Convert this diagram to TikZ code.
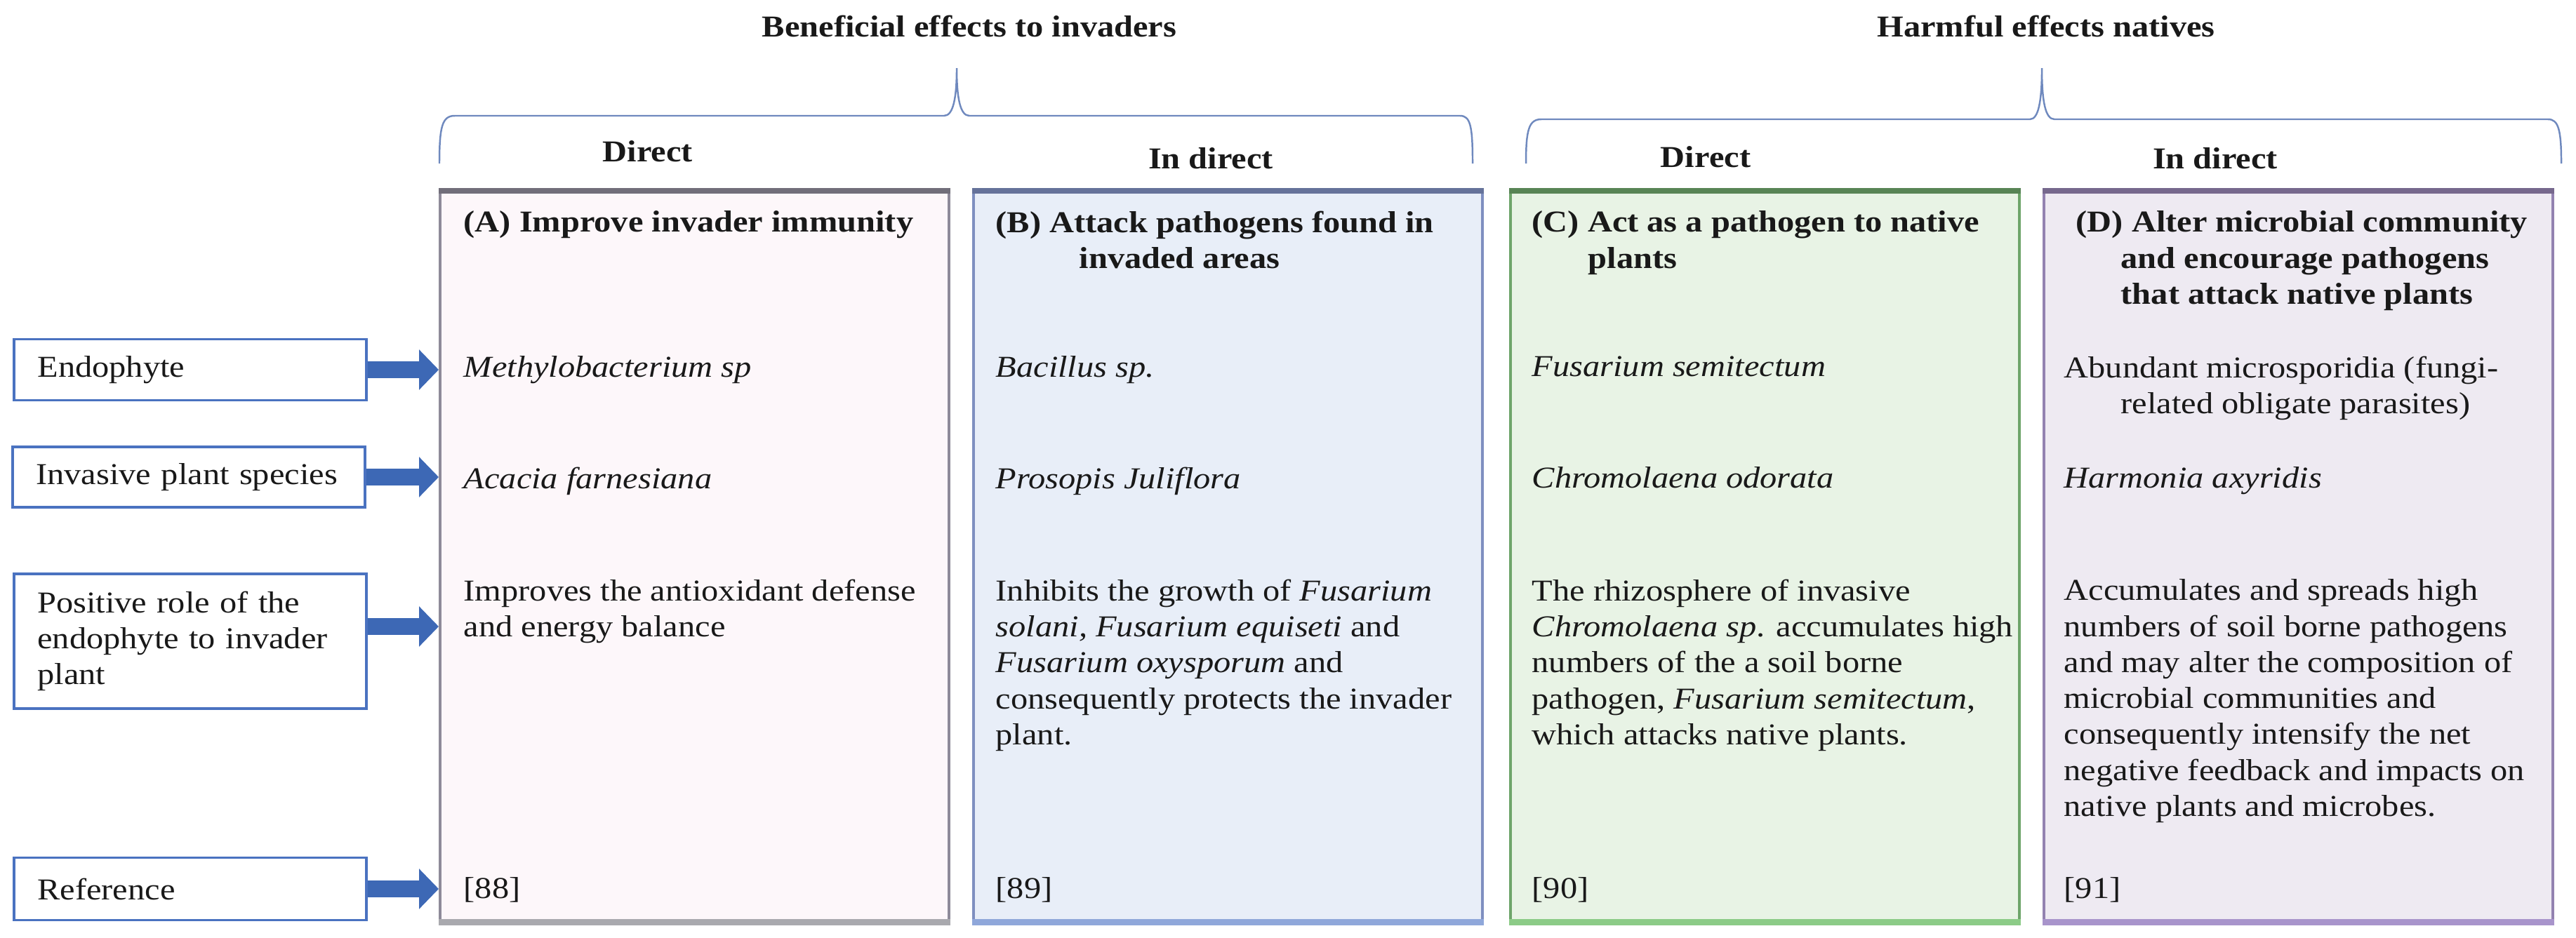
\documentclass[tikz,border=0pt]{standalone}
\usepackage{fontspec}
\setmainfont{Liberation Serif}[FakeStretch=1.12]
\usetikzlibrary{arrows.meta}

\definecolor{lblue}{HTML}{4A72C0}
\definecolor{arrblue}{HTML}{3D68B5}
\definecolor{brblue}{HTML}{6F89BE}
\definecolor{afill}{HTML}{FDF7FA}
\definecolor{aline}{HTML}{8E8A99}
\definecolor{abar}{HTML}{A9A9AE}
\definecolor{bfill}{HTML}{E8EEF8}
\definecolor{bline}{HTML}{7F8FC0}
\definecolor{bbar}{HTML}{8FA7DA}
\definecolor{cfill}{HTML}{E8F3E5}
\definecolor{cline}{HTML}{6EA56A}
\definecolor{cbar}{HTML}{8CCB87}
\definecolor{dfill}{HTML}{EEEAF2}
\definecolor{dline}{HTML}{9382B0}
\definecolor{dbar}{HTML}{A894CB}

\begin{document}
\begin{tikzpicture}[
    every node/.style={font=\fontsize{12.3}{14.6}\selectfont, inner sep=0pt, text=black!90},
    rowlabel/.style={draw=lblue, line width=1.1pt, fill=white, minimum width=5.02cm,
        text width=4.35cm, align=left, anchor=west},
    colbox/.style={line width=1pt, minimum width=7.25cm, minimum height=10.43cm, anchor=north west},
    txt/.style={anchor=north west, align=left},
    hdr/.style={txt, font=\fontsize{12.3}{14.6}\selectfont\bfseries},
    head/.style={anchor=base, font=\fontsize{12.3}{14.6}\selectfont\bfseries},
    blockarrow/.style={arrblue, line width=0.24cm, -{Triangle[length=0.28cm, width=0.56cm]}},
    bracket/.style={brblue, line width=0.7pt},
]
    \useasboundingbox (0,0) rectangle (36.70,-13.36);
    % \draw[help lines] (0,0) grid (37,-14);

    \node[head] (tBen)  at (13.81,-0.52) {Beneficial effects to invaders};
    \node[head] (tHarm) at (29.15,-0.52) {Harmful effects natives};

    \draw[bracket] (6.26,-2.33) .. controls (6.26,-1.80) and (6.30,-1.65) .. (6.48,-1.65)
        -- (13.45,-1.65) .. controls (13.58,-1.65) and (13.63,-1.40) .. (13.63,-0.97)
        .. controls (13.63,-1.40) and (13.68,-1.65) .. (13.81,-1.65)
        -- (20.80,-1.65) .. controls (20.95,-1.65) and (20.98,-1.80) .. (20.98,-2.33);
    \draw[bracket] (21.74,-2.33) .. controls (21.74,-1.85) and (21.78,-1.70) .. (21.96,-1.70)
        -- (28.92,-1.70) .. controls (29.04,-1.70) and (29.09,-1.45) .. (29.09,-0.97)
        .. controls (29.09,-1.45) and (29.14,-1.70) .. (29.27,-1.70)
        -- (36.30,-1.70) .. controls (36.45,-1.70) and (36.49,-1.85) .. (36.49,-2.33);

    \node[head] (dirA) at ( 9.23,-2.30) {Direct};
    \node[head] (indB) at (17.25,-2.40) {In direct};
    \node[head] (dirC) at (24.30,-2.38) {Direct};
    \node[head] (indD) at (31.56,-2.40) {In direct};

    \node[colbox, draw=aline, fill=afill] (boxA) at ( 6.25,-2.72) {};
    \node[colbox, draw=bline, fill=bfill] (boxB) at (13.85,-2.72) {};
    \node[colbox, draw=cline, fill=cfill] (boxC) at (21.50,-2.72) {};
    \node[colbox, draw=dline, fill=dfill] (boxD) at (29.10,-2.72) {};

    \draw[aline!80!black, line width=2pt] (boxA.north west) -- (boxA.north east);
    \draw[bline!80!black, line width=2pt] (boxB.north west) -- (boxB.north east);
    \draw[cline!80!black, line width=2pt] (boxC.north west) -- (boxC.north east);
    \draw[dline!80!black, line width=2pt] (boxD.north west) -- (boxD.north east);
    \draw[abar, line width=2.5pt] ([yshift=1.25pt]boxA.south west) -- ([yshift=1.25pt]boxA.south east);
    \draw[bbar, line width=2.5pt] ([yshift=1.25pt]boxB.south west) -- ([yshift=1.25pt]boxB.south east);
    \draw[cbar, line width=2.5pt] ([yshift=1.25pt]boxC.south west) -- ([yshift=1.25pt]boxC.south east);
    \draw[dbar, line width=2.5pt] ([yshift=1.25pt]boxD.south west) -- ([yshift=1.25pt]boxD.south east);

    \node[rowlabel, minimum height=0.87cm] (endo) at (0.18,-5.27) {Endophyte};
    \node[rowlabel, minimum height=0.86cm] (inv)  at (0.16,-6.80) {Invasive plant species};
    \node[rowlabel, minimum height=1.92cm] (role) at (0.18,-9.14) {Positive role of the\\endophyte to invader\\plant};
    \node[rowlabel, minimum height=0.89cm] (ref)  at (0.18,-12.67) {Reference};

    \draw[blockarrow] (endo.east) -- (endo.east -| boxA.west);
    \draw[blockarrow] (inv.east) -- (inv.east -| boxA.west);
    \draw[blockarrow] ([yshift=0.21cm]role.east) -- ([yshift=0.21cm]role.east -| boxA.west);
    \draw[blockarrow] (ref.east) -- (ref.east -| boxA.west);

    \node[hdr] (hA) at ( 6.60,-3.00) {(A) Improve invader immunity};
    \node[hdr] (hB) at (14.18,-3.00) {(B) Attack pathogens found in\\\hspace*{1.19cm}invaded areas};
    \node[hdr] (hC) at (21.82,-3.00) {(C) Act as a pathogen to native\\\hspace*{0.80cm}plants};
    \node[hdr] (hD) at (29.57,-3.00) {(D) Alter microbial community\\\hspace*{0.64cm}and encourage pathogens\\\hspace*{0.64cm}that attack native plants};

    \node[txt] (endoA) at ( 6.60,-5.07) {\textit{Methylobacterium sp}};
    \node[txt] (endoB) at (14.18,-5.07) {\textit{Bacillus sp.}};
    \node[txt] (endoC) at (21.82,-5.07) {\textit{Fusarium semitectum}};
    \node[txt] (endoD) at (29.40,-5.07) {Abundant microsporidia (fungi-\\\hspace*{0.81cm}related obligate parasites)};

    \node[txt] (invA) at ( 6.60,-6.65) {\textit{Acacia farnesiana}};
    \node[txt] (invB) at (14.18,-6.65) {\textit{Prosopis Juliflora}};
    \node[txt] (invC) at (21.82,-6.65) {\textit{Chromolaena odorata}};
    \node[txt] (invD) at (29.40,-6.65) {\textit{Harmonia axyridis}};

    \node[txt] (roleA) at ( 6.60,-8.25) {Improves the antioxidant defense\\and energy balance};
    \node[txt] (roleB) at (14.18,-8.25) {Inhibits the growth of \textit{Fusarium}\\\textit{solani, Fusarium equiseti} and\\\textit{Fusarium oxysporum} and\\consequently protects the invader\\plant.};
    \node[txt] (roleC) at (21.82,-8.25) {The rhizosphere of invasive\\\textit{Chromolaena sp}. accumulates high\\numbers of the a soil borne\\pathogen, \textit{Fusarium semitectum},\\which attacks native plants.};
    \node[txt] (roleD) at (29.40,-8.25) {Accumulates and spreads high\\numbers of soil borne pathogens\\and may alter the composition of\\microbial communities and\\consequently intensify the net\\negative feedback and impacts on\\native plants and microbes.};

    \node[txt] (refA) at ( 6.60,-12.50) {[88]};
    \node[txt] (refB) at (14.18,-12.50) {[89]};
    \node[txt] (refC) at (21.82,-12.50) {[90]};
    \node[txt] (refD) at (29.40,-12.50) {[91]};

\end{tikzpicture}
\end{document}
